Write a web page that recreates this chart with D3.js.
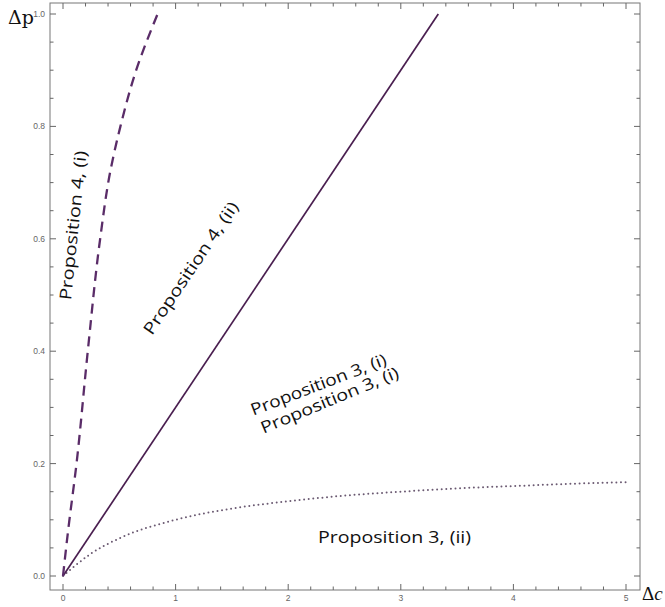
<!DOCTYPE html>
<html><head><meta charset="utf-8">
<script src="https://cdn.jsdelivr.net/npm/d3@7"></script>
<style>body{margin:0;background:#fff}svg{display:block}</style>
</head><body>
<script>
// Data
const xTicks = [0, 1, 2, 3, 4, 5];
const yTicks = [0.0, 0.2, 0.4, 0.6, 0.8, 1.0];
// Proposition 4 (i) boundary (dashed)
const dashedC = [0, 0.045, 0.12, 0.22, 0.33, 0.42, 0.51, 0.65, 0.84];
const dashedP = [0, 0.08, 0.2, 0.4, 0.6, 0.72, 0.8, 0.9, 1.0];
// Proposition 4 (ii) boundary (solid)
const solidC = [0, 3.333];
const solidP = [0, 1.0];
// Proposition 3 boundary (dotted)
const dottedC = [0, 0.1, 0.25, 0.5, 1, 1.5, 2, 2.5, 3, 3.5, 4, 4.5, 5];
const dottedP = [0, 0.017, 0.04, 0.067, 0.1, 0.12, 0.133, 0.143, 0.15, 0.156, 0.16, 0.164, 0.167];
const labels = ["Proposition 4, (i)", "Proposition 4, (ii)", "Proposition 3, (i)", "Proposition 3, (i)", "Proposition 3, (ii)"];

const W = 665, H = 607;
const svg = d3.select("body").append("svg").attr("width", W).attr("height", H);
const x = d3.scaleLinear().domain([0, 5]).range([63, 626]);
const y = d3.scaleLinear().domain([0, 1]).range([576, 14]);
const fx0 = 50, fx1 = 640, fy0 = 3, fy1 = 590;

const tickCol = "#666";
// frame
svg.append("rect").attr("x", fx0).attr("y", fy0).attr("width", fx1 - fx0).attr("height", fy1 - fy0)
  .attr("fill", "none").attr("stroke", "#777").attr("stroke-width", 1);

const xMinor = d3.range(0, 5.001, 0.2);
const yMinor = d3.range(0, 1.001, 0.05);
const g = svg.append("g").attr("stroke", tickCol).attr("stroke-width", 1);
xMinor.forEach(v => {
  const major = Math.abs(v - Math.round(v)) < 1e-6;
  const L = major ? 6 : 3.5;
  g.append("line").attr("x1", x(v)).attr("x2", x(v)).attr("y1", fy1).attr("y2", fy1 - L);
  g.append("line").attr("x1", x(v)).attr("x2", x(v)).attr("y1", fy0).attr("y2", fy0 + L);
});
yMinor.forEach(v => {
  const major = Math.abs(v * 5 - Math.round(v * 5)) < 1e-6;
  const L = major ? 6 : 3.5;
  g.append("line").attr("y1", y(v)).attr("y2", y(v)).attr("x1", fx0).attr("x2", fx0 + L);
  g.append("line").attr("y1", y(v)).attr("y2", y(v)).attr("x1", fx1).attr("x2", fx1 - L);
});

// tick labels
svg.append("g").selectAll("text").data(xTicks).join("text")
  .attr("x", d => x(d)).attr("y", 601).attr("text-anchor", "middle")
  .attr("font-family", "Liberation Sans, Arial, sans-serif").attr("font-size", 8.5).attr("fill", "#666")
  .text(d => d3.format("d")(d));
svg.append("g").selectAll("text").data(yTicks).join("text")
  .attr("x", 45).attr("y", d => y(d) + 3).attr("text-anchor", "end")
  .attr("font-family", "Liberation Sans, Arial, sans-serif").attr("font-size", 8.5).attr("fill", "#666")
  .text(d => d3.format(".1f")(d));

// axis labels
svg.append("text").attr("x", 8).attr("y", 24).attr("font-family", "DejaVu Serif, Liberation Serif, serif")
  .attr("font-size", 19).attr("fill", "#111").text("Δp");
const dc = svg.append("text").attr("x", 642).attr("y", 600).attr("font-family", "Liberation Serif, DejaVu Serif, serif")
  .attr("font-size", 19).attr("fill", "#111");
dc.append("tspan").text("Δ");
dc.append("tspan").attr("font-style", "italic").text("c");

// curves
const line = d3.line().x(d => x(d[0])).y(d => y(d[1]));
svg.append("path").datum(dottedC.map((c, i) => [c, dottedP[i]]))
  .attr("d", line.curve(d3.curveMonotoneX)).attr("fill", "none")
  .attr("stroke", "#6b5a72").attr("stroke-width", 2).attr("stroke-linecap", "round")
  .attr("stroke-dasharray", "0 4.6");
svg.append("path").datum(solidC.map((c, i) => [c, solidP[i]]))
  .attr("d", d3.line().x(d => x(d[0])).y(d => y(d[1]))).attr("fill", "none")
  .attr("stroke", "#4a1f50").attr("stroke-width", 1.7);
svg.append("path").datum(dashedC.map((c, i) => [c, dashedP[i]]))
  .attr("d", d3.line().x(d => x(d[0])).y(d => y(d[1])).curve(d3.curveMonotoneY)).attr("fill", "none")
  .attr("stroke", "#5a2c68").attr("stroke-width", 2.3).attr("stroke-dasharray", "10 6.5");

// region labels: [x, y (data), rotation, length]
const lab = [
  [0.07, 0.49, -84, 150],
  [0.79, 0.427, -56, 156],
  [1.69, 0.285, -21, 144],
  [1.78, 0.253, -22.5, 148],
  [2.265, 0.059, 0, 153]
];
svg.append("g").selectAll("text").data(labels).join("text")
  .attr("transform", (d, i) => `translate(${x(lab[i][0])},${y(lab[i][1])}) rotate(${lab[i][2]})`)
  .attr("font-family", "Open Sans, Noto Sans, sans-serif").attr("font-size", 16.5).attr("fill", "#111")
  .attr("textLength", (d, i) => lab[i][3]).attr("lengthAdjust", "spacingAndGlyphs")
  .text(d => d);
</script>
</body></html>
